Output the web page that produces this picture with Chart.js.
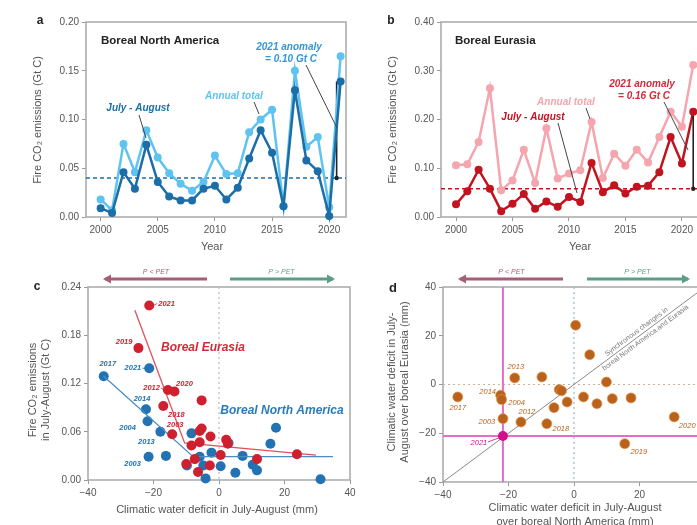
<!DOCTYPE html>
<html>
<head>
<meta charset="utf-8">
<script src="https://cdn.jsdelivr.net/npm/chart.js@4.4.1/dist/chart.umd.min.js"></script>
<style>
body { margin: 0; background: #fff; overflow: hidden; }
#page { position: relative; width: 697px; height: 525px; overflow: hidden; background: #fff; }
canvas { position: absolute; }
</style>
</head>
<body>
<div id="page">
  <canvas id="chartA" width="350" height="262" style="left:0;top:0"></canvas>
  <canvas id="chartB" width="360" height="262" style="left:350px;top:0"></canvas>
  <canvas id="chartC" width="362" height="263" style="left:0;top:262px"></canvas>
  <canvas id="chartD" width="370" height="263" style="left:350px;top:262px"></canvas>
</div>
<script>
// panels a and b: fire CO2 emissions (Gt C)
let years = [2000, 2001, 2002, 2003, 2004, 2005, 2006, 2007, 2008, 2009, 2010,
    2011, 2012, 2013, 2014, 2015, 2016, 2017, 2018, 2019, 2020, 2021]
let naAnnual = [0.018, 0.007, 0.075, 0.046, 0.089, 0.061, 0.045, 0.034, 0.027, 0.036, 0.063,
    0.044, 0.045, 0.087, 0.100, 0.110, 0.011, 0.150, 0.072, 0.082, 0.010, 0.165]
let naJulAug = [0.009, 0.004, 0.046, 0.029, 0.074, 0.036, 0.021, 0.017, 0.017, 0.029, 0.032,
    0.018, 0.030, 0.060, 0.089, 0.066, 0.011, 0.130, 0.058, 0.047, 0.001, 0.139]
let naBaseline = 0.04
let euAnnual = [0.106, 0.108, 0.154, 0.264, 0.055, 0.075, 0.138, 0.070, 0.182, 0.079, 0.089,
    0.096, 0.195, 0.080, 0.130, 0.105, 0.138, 0.112, 0.164, 0.216, 0.185, 0.312]
let euJulAug = [0.026, 0.053, 0.097, 0.058, 0.012, 0.027, 0.047, 0.017, 0.032, 0.021, 0.041,
    0.031, 0.111, 0.051, 0.065, 0.048, 0.062, 0.064, 0.092, 0.164, 0.110, 0.216]
let euBaseline = 0.058

// panel c: water deficit (mm) vs July-August emissions (Gt C)
let euDefC = [-21.3, -24.6, -15.6, -13.6, -17.0, -14.3, -5.3, -5.9, -5.3, -8.4, -5.9,
    -2.6, 2.2, 2.7, -10.0, -7.4, -6.4, -2.8, 0.5, 11.6, 23.8]
let euEmisC = [0.217, 0.164, 0.112, 0.110, 0.092, 0.057, 0.099, 0.061, 0.064, 0.043, 0.047,
    0.054, 0.050, 0.045, 0.020, 0.026, 0.010, 0.018, 0.031, 0.026, 0.032]
let euYearC = ['2021', '2019', '2012', '2020', '2018', '2003']
let naDefC = [-35.2, -21.3, -22.3, -21.8, -17.9, -21.5, -8.4, -16.2, -5.9, -4.8, -4.1,
    -2.3, 0.5, 5.0, 7.2, 10.3, 11.6, 15.7, 17.4, 31.0, 2.9, -9.8]
let naEmisC = [0.129, 0.139, 0.088, 0.073, 0.060, 0.029, 0.058, 0.030, 0.029, 0.018, 0.002,
    0.034, 0.017, 0.009, 0.030, 0.019, 0.012, 0.045, 0.065, 0.001, 0.046, 0.018]
let naYearC = ['2017', '2021', '2014', '2004', '2013', '2003']
let euFitX = [-25.7, -10.5, 29.6]
let euFitY = [0.211, 0.046, 0.031]
let naFitX = [-35.2, -7.9, 34.8]
let naFitY = [0.129, 0.029, 0.029]

// panel d: water deficit North America (x) vs Eurasia (y), mm
let dNaDef = [-35.5, -22.4, -22.1, -21.7, -18.1, -16.2, -9.8, -8.3, -6.1, -4.5, -3.8,
    -2.1, 0.5, 2.9, 4.8, 7.0, 9.9, 11.7, 17.4, 30.6, 15.5]
let dEuDef = [-5.1, -4.4, -6.2, -14.0, 2.7, -15.4, 3.1, -16.1, -9.5, -2.1, -2.6,
    -7.2, 24.3, -5.1, 12.2, -7.9, 1.0, -5.8, -5.5, -13.3, -24.3]
let dYear = ['2017', '2014', '2004', '2003', '2013', '2012', '', '2018', '', '', '',
    '', '', '', '', '', '', '', '', '2020', '2019']
let d2021Na = [-21.7]
let d2021Eu = [-21.1]

// label placement (dx, dy, align, leader)
let cLabelPosEu = {'2021': [9, -2, 'left', true], '2019': [-6, -6, 'right'], '2012': [-8, -2, 'right', true],
    '2020': [10, -8, 'center'], '2018': [13, 9, 'center'], '2003': [3, -9, 'center']}
let cLabelPosNa = {'2017': [4, -12, 'center'], '2021': [-8, 0, 'right', true], '2014': [-4, -10, 'center'],
    '2004': [-20, 7, 'center'], '2013': [-14, 10, 'center'], '2003': [-16, 7, 'center']}
let dLabelPos = {'2017': [0, 11], '2014': [-13, -3], '2004': [15, 3], '2012': [6, -10], '2003': [-16, 3],
    '2018': [14, 5], '2013': [1, -11], '2019': [14, 8], '2020': [13, 9], '2021': [-24, 7]}

let naLight = '#5ec3f0'
let naDark = '#1b6ea7'
let euLight = '#f4a5ad'
let euDark = '#c2141f'
let cRed = '#cf2030'
let cBlue = '#2373b3'
let dBrown = '#b8621b'
let magenta = '#e46dc8'
let FONT = '"Liberation Sans", Arial, sans-serif'

Chart.defaults.font.family = FONT
Chart.defaults.font.size = 10
Chart.defaults.color = '#555'

function pts(xs, ys){
    return xs.map(function (x, i){ return {x: x, y: ys[i]} })
}

function say(ctx, str, x, y, opt){
    opt = opt || {}
    ctx.save()
    ctx.translate(x, y)
    if (opt.angle) ctx.rotate(opt.angle)
    ctx.font = (opt.style || '') + ' ' + (opt.size || 10) + 'px ' + FONT
    ctx.fillStyle = opt.color || '#555'
    ctx.textAlign = opt.align || 'center'
    ctx.textBaseline = 'middle'
    ctx.fillText(str, 0, 0)
    ctx.restore()
}

function seg(ctx, x1, y1, x2, y2, color, width, dash){
    ctx.save()
    ctx.beginPath()
    ctx.strokeStyle = color
    ctx.lineWidth = width || 1
    ctx.setLineDash(dash || [])
    ctx.moveTo(x1, y1)
    ctx.lineTo(x2, y2)
    ctx.stroke()
    ctx.restore()
}

function dot(ctx, x, y, r, color){
    ctx.save()
    ctx.fillStyle = color
    ctx.beginPath()
    ctx.arc(x, y, r, 0, Math.PI * 2)
    ctx.fill()
    ctx.restore()
}

function arrow(ctx, from, to, y, color, label){
    seg(ctx, from, y, to, y, color, 3)
    let dir = to > from ? 1 : -1
    ctx.save()
    ctx.fillStyle = color
    ctx.beginPath()
    ctx.moveTo(to + dir * 2, y)
    ctx.lineTo(to - dir * 6, y - 4.5)
    ctx.lineTo(to - dir * 6, y + 4.5)
    ctx.closePath()
    ctx.fill()
    ctx.restore()
    say(ctx, label, (from + to) / 2, y - 7, {size: 7, style: 'italic', color: color})
}

let frame = {
    id: 'frame',
    beforeDatasetsDraw(chart){
        let a = chart.chartArea
        let ctx = chart.ctx
        ctx.save()
        ctx.strokeStyle = '#a8a8a8'
        ctx.lineWidth = 1.5
        ctx.strokeRect(a.left, a.top, a.right - a.left, a.bottom - a.top)
        ctx.restore()
    }
}

function axis(min, max, step, size, isX, fmt){
    return {
        type: 'linear',
        min: min,
        max: max,
        border: {display: false},
        grid: {drawOnChartArea: false, tickLength: 4, color: '#999'},
        ticks: {stepSize: step, includeBounds: false, padding: 3, color: '#555', font: {size: 10}, callback: fmt},
        afterFit: function (scale){
            if (isX) scale.height = size
            else scale.width = size
        }
    }
}

function minus(v){
    return v < 0 ? '\u2212' + Math.abs(v) : String(v)
}

function baseOptions(padding, xs, ys){
    return {
        responsive: false,
        devicePixelRatio: 1,
        animation: false,
        layout: {padding: padding},
        plugins: {legend: {display: false}, tooltip: {enabled: false}},
        scales: {x: xs, y: ys}
    }
}

function lineSet(xs, ys, color, width, radius){
    return {
        data: pts(xs, ys),
        showLine: true,
        borderColor: color,
        backgroundColor: color,
        borderWidth: width,
        pointRadius: radius,
        pointBorderWidth: 0,
        tension: 0,
        clip: false
    }
}

// ---- panel a
new Chart(document.getElementById('chartA'), {
    type: 'scatter',
    data: {datasets: [
        lineSet(years, naJulAug, naDark, 2.5, 4),
        lineSet(years, naAnnual, naLight, 2.5, 4)
    ]},
    options: baseOptions({top: 22, right: 3, left: 0, bottom: 0},
        axis(1998.72, 2021.47, 5, 45, true, function (v){ return String(v) }),
        axis(0, 0.2, 0.05, 86, false, function (v){ return v.toFixed(2) })),
    plugins: [frame, {
        id: 'notesA',
        beforeDatasetsDraw(chart){
            let ctx = chart.ctx, a = chart.chartArea, x = chart.scales.x, y = chart.scales.y
            let by = y.getPixelForValue(naBaseline)
            seg(ctx, a.left, by, a.right, by, naDark, 1.3, [4, 3])
            let last = years.length - 1
            let px = x.getPixelForValue(years[last]) - 4
            seg(ctx, px, by, px, y.getPixelForValue(naJulAug[last]), '#222', 1.6)
            dot(ctx, px, by, 2.2, '#222')
        },
        afterDraw(chart){
            let ctx = chart.ctx
            say(ctx, 'a', 40, 21, {size: 12, style: 'bold', color: '#222'})
            say(ctx, 'Fire CO\u2082 emissions (Gt C)', 38, 120, {size: 11, angle: -Math.PI / 2})
            say(ctx, 'Year', 212, 247, {size: 11})
            say(ctx, 'Boreal North America', 101, 41, {size: 11.5, style: 'bold', color: '#222', align: 'left'})
            say(ctx, '2021 anomaly', 289, 47, {size: 10, style: 'italic bold', color: '#3297d6'})
            say(ctx, '= 0.10 Gt C', 291, 59, {size: 10, style: 'italic bold', color: '#3297d6'})
            say(ctx, 'Annual total', 234, 96, {size: 10, style: 'italic bold', color: naLight})
            say(ctx, 'July - August', 138, 108, {size: 10, style: 'italic bold', color: naDark})
            seg(ctx, 139, 115, 146, 138, '#444', 1)
            seg(ctx, 254, 102, 259, 114, '#444', 1)
            seg(ctx, 306, 65, 337, 128, '#444', 1)
        }
    }]
})

// ---- panel b
new Chart(document.getElementById('chartB'), {
    type: 'scatter',
    data: {datasets: [
        lineSet(years, euJulAug, euDark, 2.5, 4),
        lineSet(years, euAnnual, euLight, 2.5, 4)
    ]},
    options: baseOptions({top: 22, right: 10, left: 0, bottom: 0},
        axis(1998.67, 2021.6, 5, 45, true, function (v){ return String(v) }),
        axis(0, 0.4, 0.1, 91, false, function (v){ return v.toFixed(2) })),
    plugins: [frame, {
        id: 'notesB',
        beforeDatasetsDraw(chart){
            let ctx = chart.ctx, a = chart.chartArea, y = chart.scales.y
            let by = y.getPixelForValue(euBaseline)
            seg(ctx, a.left, by, a.right, by, euDark, 1.3, [4, 3])
        },
        afterDatasetsDraw(chart){
            let ctx = chart.ctx, x = chart.scales.x, y = chart.scales.y
            let last = years.length - 1
            let px = x.getPixelForValue(years[last])
            let by = y.getPixelForValue(euBaseline)
            seg(ctx, px, by, px, y.getPixelForValue(euJulAug[last]) + 4, '#222', 1.6)
            dot(ctx, px, by, 2.2, '#222')
        },
        afterDraw(chart){
            let ctx = chart.ctx
            say(ctx, 'b', 41, 21, {size: 12, style: 'bold', color: '#222'})
            say(ctx, 'Fire CO\u2082 emissions (Gt C)', 43, 120, {size: 11, angle: -Math.PI / 2})
            say(ctx, 'Year', 230, 247, {size: 11})
            say(ctx, 'Boreal Eurasia', 105, 41, {size: 11.5, style: 'bold', color: '#222', align: 'left'})
            say(ctx, '2021 anomaly', 292, 84, {size: 10, style: 'italic bold', color: '#d32a38'})
            say(ctx, '= 0.16 Gt C', 294, 96, {size: 10, style: 'italic bold', color: '#d32a38'})
            say(ctx, 'Annual total', 216, 102, {size: 10, style: 'italic bold', color: euLight})
            say(ctx, 'July - August', 183, 117, {size: 10, style: 'italic bold', color: euDark})
            seg(ctx, 236, 108, 240, 119, '#444', 1)
            seg(ctx, 208, 123, 227, 193, '#444', 1)
            seg(ctx, 314, 102, 338, 150, '#444', 1)
        }
    }]
})

function pointLabels(ctx, chart, xs, ys, names, pos, color){
    let x = chart.scales.x, y = chart.scales.y
    for (let i = 0; i < names.length; i++){
        if (!names[i] || !pos[names[i]]) continue
        let p = pos[names[i]]
        let px = x.getPixelForValue(xs[i]), py = y.getPixelForValue(ys[i])
        let tx = px + p[0], ty = py + p[1]
        if (p[3]){
            let dx = p[0] > 0 ? 1 : -1
            seg(ctx, px + dx * 4, py, tx - dx * 1, ty, color, 0.8)
        }
        say(ctx, names[i], tx, ty, {size: 7.5, style: 'italic bold', color: color, align: p[2] || 'center'})
    }
}

// ---- panel c
new Chart(document.getElementById('chartC'), {
    type: 'scatter',
    data: {datasets: [
        {data: pts(euDefC, euEmisC), backgroundColor: cRed, pointRadius: 5, pointBorderWidth: 0, clip: false},
        lineSet(euFitX, euFitY, '#e0505a', 1.3, 0),
        lineSet(naFitX, naFitY, '#4a8cc2', 1.3, 0),
        {data: pts(naDefC, naEmisC), backgroundColor: cBlue, pointRadius: 5, pointBorderWidth: 0, clip: false}
    ]},
    options: baseOptions({top: 25, right: 12, left: 0, bottom: 0},
        axis(-40, 40, 20, 45, true, minus),
        axis(0, 0.24, 0.06, 88, false, function (v){ return v.toFixed(2) })),
    plugins: [frame, {
        id: 'notesC',
        beforeDatasetsDraw(chart){
            let ctx = chart.ctx, a = chart.chartArea, x = chart.scales.x
            let zx = x.getPixelForValue(0)
            seg(ctx, zx, a.top, zx, a.bottom, '#bbb', 1.2, [2, 3])
        },
        afterDraw(chart){
            let ctx = chart.ctx
            pointLabels(ctx, chart, euDefC, euEmisC, euYearC, cLabelPosEu, cRed)
            pointLabels(ctx, chart, naDefC, naEmisC, naYearC, cLabelPosNa, cBlue)
            say(ctx, 'c', 37, 25, {size: 12, style: 'bold', color: '#222'})
            say(ctx, 'Fire CO\u2082 emissions', 33, 128, {size: 11, angle: -Math.PI / 2})
            say(ctx, 'in July-August (Gt C)', 46, 128, {size: 11, angle: -Math.PI / 2})
            say(ctx, 'Climatic water deficit in July-August (mm)', 217, 248, {size: 11})
            arrow(ctx, 207, 105, 17, '#a65e74', 'P < PET')
            arrow(ctx, 230, 333, 17, '#5d9d88', 'P > PET')
            say(ctx, 'Boreal Eurasia', 203, 86, {size: 12, style: 'italic bold', color: '#d42a36'})
            say(ctx, 'Boreal North America', 282, 149, {size: 12, style: 'italic bold', color: '#2b7bba'})
        }
    }]
})

// ---- panel d
new Chart(document.getElementById('chartD'), {
    type: 'scatter',
    data: {datasets: [
        {data: pts(d2021Na, d2021Eu), backgroundColor: '#d1118a', pointRadius: 5, pointBorderWidth: 0, clip: false},
        {data: pts(dNaDef, dEuDef), backgroundColor: dBrown, borderColor: 'rgba(226,150,80,0.7)',
            pointRadius: 5, pointBorderWidth: 1, clip: false}
    ]},
    options: baseOptions({top: 25, right: 15, left: 0, bottom: 0},
        axis(-40, 40, 20, 43, true, minus),
        axis(-40, 40, 20, 93, false, minus)),
    plugins: [frame, {
        id: 'notesD',
        beforeDatasetsDraw(chart){
            let ctx = chart.ctx, a = chart.chartArea, x = chart.scales.x, y = chart.scales.y
            let zx = x.getPixelForValue(0), zy = y.getPixelForValue(0)
            seg(ctx, zx, a.top, zx, a.bottom, '#9fb6cc', 1.2, [2, 3])
            seg(ctx, a.left, zy, a.right, zy, '#c8b49c', 1.2, [2, 3])
            // 1:1 line
            let x0 = x.getPixelForValue(x.min), y0 = y.getPixelForValue(y.min)
            let x1 = x.getPixelForValue(x.max), y1 = y.getPixelForValue(y.max)
            seg(ctx, x0, y0, x1, y1, '#8a8a8a', 1)
            // 2021 cross-hairs
            let mx = x.getPixelForValue(d2021Na[0]), my = y.getPixelForValue(d2021Eu[0])
            seg(ctx, mx, a.top, mx, a.bottom, magenta, 2)
            seg(ctx, a.left, my, a.right, my, magenta, 2)
            // diagonal caption, first line above the 1:1 line, second below
            let ang = Math.atan2(y1 - y0, x1 - x0)
            let cx = x.getPixelForValue(20), cy = y.getPixelForValue(20)
            let nx = Math.sin(ang), ny = -Math.cos(ang)
            say(ctx, 'Synchronous changes in', cx + nx * 5, cy + ny * 5, {size: 7, color: '#777', angle: ang})
            say(ctx, 'boreal North America and Eurasia', cx - nx * 5 + 3, cy - ny * 5 - 2, {size: 7, color: '#777', angle: ang})
        },
        afterDraw(chart){
            let ctx = chart.ctx
            let x = chart.scales.x, y = chart.scales.y
            for (let i = 0; i < dYear.length; i++){
                let p = dLabelPos[dYear[i]]
                if (!p) continue
                let px = x.getPixelForValue(dNaDef[i]), py = y.getPixelForValue(dEuDef[i])
                say(ctx, dYear[i], px + p[0], py + p[1], {size: 7.5, style: 'italic', color: dBrown})
            }
            let p = dLabelPos['2021']
            let mx = x.getPixelForValue(d2021Na[0]), my = y.getPixelForValue(d2021Eu[0])
            seg(ctx, mx - 4, my + 2, mx + p[0] + 9, my + p[1] - 1, '#d1118a', 0.8)
            say(ctx, '2021', mx + p[0], my + p[1], {size: 7.5, style: 'italic', color: '#d1118a'})
            say(ctx, 'd', 43, 26, {size: 13, style: 'bold', color: '#222'})
            say(ctx, 'Climatic water deficit in July-', 42, 120, {size: 11, angle: -Math.PI / 2})
            say(ctx, 'August over boreal Eurasia (mm)', 55, 120, {size: 11, angle: -Math.PI / 2})
            say(ctx, 'Climatic water deficit in July-August', 225, 246, {size: 11})
            say(ctx, 'over boreal North America (mm)', 225, 260, {size: 11})
            arrow(ctx, 213, 110, 17, '#a65e74', 'P < PET')
            arrow(ctx, 237, 338, 17, '#5d9d88', 'P > PET')
        }
    }]
})
</script>
</body>
</html>
